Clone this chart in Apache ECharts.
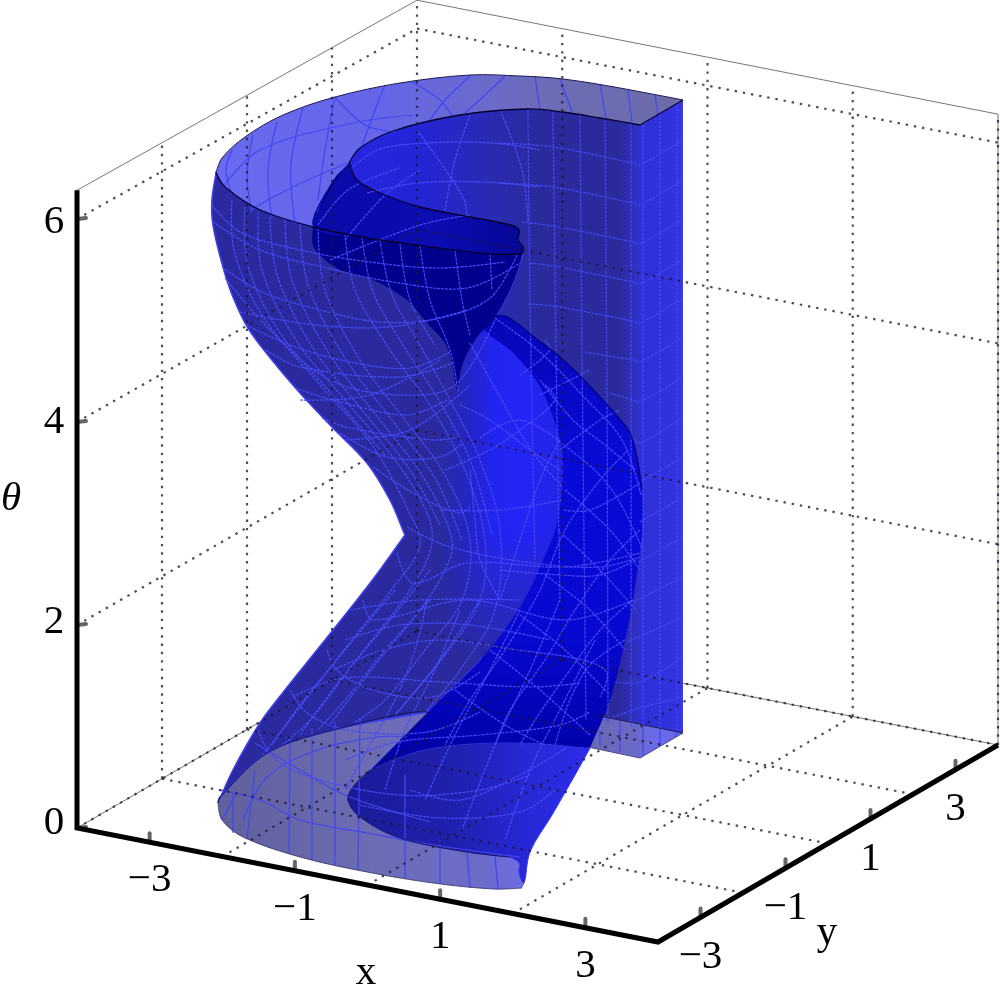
<!DOCTYPE html>
<html>
<head>
<meta charset="utf-8">
<style>
  html, body { margin: 0; padding: 0; background: #fff; }
  #chart { width: 1000px; height: 997px; }
</style>
<script src="https://cdn.jsdelivr.net/npm/echarts@6/dist/echarts.min.js"></script>
</head>
<body>
<div id="chart"></div>
<script>
// axis ticks and grid positions, in data units
const xTicks = [-3, -1, 1, 3]
const yTicks = [-3, -1, 1, 3]
const thetaTicks = [0, 2, 4, 6]
const xGrid = [-2, 0, 2]
const yGrid = [-2, 0, 2]
const thetaGrid = [2, 4, 6]
const axisMin = -4
const axisMax = 4
const thetaMax = 6.283

// outlines of the surface (plot units)
const outerBackArc = [[216,173],[222,158],[245,137],[283,115],[335,97],[400,83],[470,75],[520,76],[563,79],[620,88],[683,100],[683,100]]
const innerBackArc = [[349,163],[360,148],[393,131],[460,115],[527,109],[563,112],[600,118],[640,125],[640,125]]
const outerFrontRim = [[216,173],[225,187],[260,210],[313,227],[367,238],[430,247],[490,254],[522,254]]
const innerFrontRim = [[349,163],[357,180],[380,193],[420,207],[470,217],[510,225],[519,230],[518,240],[523,247],[522,254]]
const darkLeft = [[349,163],[333,180],[317,213],[312,240],[317,252],[340,270],[373,280],[407,300],[427,323],[447,347],[457,392]]
const darkRight = [[457,392],[463,363],[477,337],[493,320],[510,290],[520,263],[522,254]]
const leftEdge = [[216,173],[212,200],[213,225],[223,267],[233,297],[248,328],[272,360],[300,393],[333,428],[367,463],[390,500],[405,535]]
const leftLower = [[405,535],[380,570],[357,600],[317,650],[285,690],[260,723],[233,770],[218,803]]
const ringTop = [[218,803],[220,797],[267,753],[333,730],[427,712]]
const ribbonInner = [[483,328],[513,353],[540,387],[560,440],[563,467],[557,523],[543,560],[520,607],[483,657],[433,707]]
const ribbonLow = [[433,707],[400,740],[370,770]]
const ribbonOuter = [[490,316],[507,317],[535,338],[560,357],[582,378],[600,397],[617,416],[630,433],[637,458],[642,490],[642,533],[633,600],[623,650],[610,700],[590,748]]
const lowArc = [[370,770],[400,757],[433,748],[483,743],[533,743],[590,748]]
const lowRight = [[590,748],[575,775],[552,815],[530,852],[524,883],[519,873],[519,863],[510,857]]
const ringInner = [[370,770],[353,787],[348,800],[360,817],[400,838],[467,852],[510,857]]
const ringNotch = [[510,857],[519,863],[519,873],[524,883],[522,888]]
const ringOuter = [[522,888],[493,889],[433,883],[367,872],[300,857],[243,837],[222,820],[218,803]]
const wallBack = [[640,724],[640,724],[600,716],[600,716],[500,600],[470,300],[345,230],[349,163]]
const wallSide = [[640,125],[683,100],[683,733],[640,724]]
const wallFoot = [[595,715],[683,733],[640,758],[588,747]]
const brightLeft = [[483,657],[450,620],[440,500],[445,400],[457,392],[463,363],[477,337],[483,328]]

// mesh lines of the surface
const meshCap = [
  [[253,135],[247,175],[252,213]], [[277,122],[268,170],[272,218]], [[303,108],[291,165],[295,224]],
  [[335,97],[325,150],[318,200]], [[232,150],[226,170],[232,194]], [[223,187],[260,150],[353,123],[413,115]],
  [[250,210],[293,187],[347,163]], [[335,97],[365,125],[395,132]], [[385,85],[375,110],[362,146]],
  [[412,82],[440,100],[452,116]], [[470,76],[445,100],[430,120]], [[505,76],[485,95],[465,113]],
  [[535,76],[540,110]], [[560,79],[572,112]], [[600,84],[606,118]], [[628,90],[632,123]], [[655,95],[658,115]]
]
const meshWall = [
  [[528,110],[530,300],[535,560]], [[553,112],[556,350],[560,600]], [[580,115],[582,350],[586,720]],
  [[605,119],[607,400],[608,722]], [[631,124],[631,400],[631,726]], [[643,125],[643,400],[643,726]],
  [[660,113],[660,400],[660,730]], [[677,104],[677,400],[677,733]],
  [[500,143],[553,147],[633,163],[640,165],[683,140]], [[500,183],[553,187],[633,203],[640,205],[683,180]],
  [[522,222],[553,226],[633,242],[640,244],[683,219]], [[530,263],[553,266],[633,282],[640,284],[683,259]],
  [[528,304],[553,306],[633,321],[640,323],[683,298]], [[585,352],[633,360],[640,362],[683,337]],
  [[610,393],[633,400],[640,402],[683,377]], [[630,435],[640,443],[683,417]], [[640,482],[683,457]],
  [[640,522],[683,497]], [[638,562],[683,537]], [[633,602],[683,577]], [[627,642],[683,617]],
  [[615,682],[640,682],[683,657]], [[605,720],[640,708],[683,697]]
]
const meshBody = [
  [[212,205],[240,232],[300,250],[370,262],[440,268],[505,262]],
  [[213,222],[260,250],[327,268],[393,282],[467,288],[520,263]],
  [[222,267],[262,292],[320,310],[380,322],[440,318],[490,298],[517,255]],
  [[240,312],[300,323],[367,328],[417,323],[467,310]],
  [[246,325],[290,345],[350,362],[410,368],[450,352]],
  [[266,350],[300,367],[400,377],[453,363]],
  [[295,388],[333,400],[407,415],[447,400]],
  [[322,418],[350,428],[433,440],[457,437]],
  [[340,433],[387,457],[440,457],[463,443]],
  [[373,467],[420,497],[460,513],[470,507]],
  [[300,400],[370,395],[440,360]],
  [[345,440],[410,430],[470,385]],
  [[232,200],[234,250],[262,315],[320,385],[372,445],[408,510],[420,545],[395,585],[340,655],[290,720],[262,756]],
  [[245,207],[247,262],[278,330],[330,392],[385,455]],
  [[258,212],[262,270],[296,340],[345,400],[395,460],[428,515],[431,548],[410,590],[360,655],[310,720],[282,745]],
  [[270,217],[277,275],[313,348],[362,410],[410,470],[440,525]],
  [[285,220],[292,280],[330,355],[380,420],[425,480],[452,540],[445,570],[420,610],[375,665],[330,725]],
  [[300,224],[308,285],[345,358],[392,420],[435,478],[462,540]],
  [[318,228],[325,290],[360,360],[405,420],[445,475],[470,540],[462,600],[425,650],[385,700],[355,722]],
  [[345,234],[355,290],[390,350],[430,405],[465,470],[485,540],[480,600],[445,655],[395,715]],
  [[362,237],[373,292],[405,348],[440,402],[472,465],[492,535]],
  [[380,240],[392,295],[420,345],[450,400],[480,460],[500,530],[495,610],[460,670],[425,712]],
  [[420,246],[430,300],[450,350],[458,392]],
  [[400,243],[410,300],[435,345]],
  [[455,250],[462,300],[470,335]],
  [[490,254],[492,290]],
  [[225,278],[270,330],[330,380],[400,395],[455,385],[495,320]],
  [[345,240],[385,195],[420,170]],
  [[350,170],[377,150],[427,143],[493,143],[540,150]],
  [[367,193],[417,183],[483,182],[540,187]],
  [[417,130],[463,197],[467,217]],
  [[470,115],[455,160],[445,210]],
  [[500,110],[522,170],[528,222]],
  [[318,225],[348,190],[400,168]],
  [[330,260],[420,225],[470,215]],
  [[397,553],[413,583],[467,563],[567,567],[640,553]],
  [[363,600],[373,620],[467,600],[567,620],[633,600]],
  [[407,527],[450,547],[533,563],[600,567],[640,557]],
  [[350,610],[420,600],[520,600]],
  [[345,640],[400,625],[470,625],[550,640]],
  [[470,343],[500,397],[533,453],[563,487]],
  [[460,405],[490,420],[530,450],[560,470]],
  [[445,470],[490,450],[520,430],[555,400],[545,385]],
  [[470,470],[475,520],[480,560],[500,600]],
  [[500,600],[520,540],[540,480],[560,440]],
  [[440,510],[500,510],[563,500]],
  [[333,670],[383,650],[440,640],[517,650],[583,660],[607,673],[600,697]],
  [[293,697],[343,678],[440,682],[533,687],[580,683]],
  [[327,650],[337,670],[373,690],[433,697],[480,672]],
  [[290,690],[307,713],[347,730],[427,732],[480,712]],
  [[258,730],[273,757],[310,777],[400,795],[480,790],[530,775]],
  [[345,760],[397,742],[480,735],[560,725],[590,712]],
  [[410,790],[460,800],[520,775],[566,748]],
  [[360,805],[440,818],[520,812],[555,790]],
  [[300,735],[340,680],[390,620],[430,570]],
  [[395,590],[345,650],[300,705],[272,745]],
  [[430,600],[385,650],[345,700],[318,730]],
  [[395,715],[440,660],[480,600]],
  [[427,600],[415,650],[395,700],[370,745],[345,790]],
  [[460,610],[435,670],[405,730],[385,790]],
  [[520,610],[490,670],[455,735],[425,800]],
  [[560,600],[530,670],[495,745],[462,830]],
  [[595,640],[565,700],[530,770],[505,840]]
]
const meshRibbon = [
  [[495,318],[540,352],[585,398],[622,440],[641,495]],
  [[540,380],[573,420],[605,445],[635,470]],
  [[480,438],[520,420],[573,452],[612,490],[642,548]],
  [[565,490],[610,530],[640,570]],
  [[558,530],[600,570],[636,610]],
  [[545,575],[590,610],[625,650]],
  [[520,615],[565,650],[610,695]],
  [[490,650],[540,690],[590,735]],
  [[455,690],[505,725],[545,745]],
  [[640,483],[590,510],[563,510]],
  [[636,560],[600,575],[560,575],[500,570]],
  [[640,530],[610,560],[575,610],[545,660],[510,710],[495,745]],
  [[628,450],[600,480],[565,530],[540,590],[505,650],[470,700],[445,745]],
  [[633,600],[600,630],[570,670],[535,720],[520,745]],
  [[625,640],[590,665],[570,700],[555,745]],
  [[560,450],[600,420],[620,410]],
  [[540,395],[570,380],[590,370]],
  [[520,375],[550,350],[545,340]]
]
const meshRing = [
  [[220,790],[260,800],[300,820],[367,833],[433,845],[520,857]],
  [[255,743],[300,770],[345,795],[395,812],[430,822]],
  [[243,820],[267,777],[317,750],[377,737],[407,737]],
  [[233,793],[233,833]], [[255,770],[247,839]], [[290,738],[289,852]], [[312,728],[312,860]],
  [[335,722],[335,866]], [[360,718],[358,870]], [[405,775],[405,878]], [[440,840],[440,884]],
  [[467,852],[470,888]], [[495,856],[498,889]], [[235,795],[222,820]], [[600,730],[600,746]],
  [[620,722],[620,752]], [[643,726],[643,756]], [[660,730],[660,746]], [[677,733],[675,737]]
]

const chartDom = document.getElementById('chart')
const chart = echarts.init(chartDom, null, { renderer: 'canvas' })

// projects axis values to plot units, slight foreshortening on theta
const project = (x, y, t) => {
  const u = (x - axisMin) / (axisMax - axisMin)
  const v = (y - axisMin) / (axisMax - axisMin)
  return [
    77 + u * 581 + v * 340,
    828 + u * 114 - v * 197 - t * (101.5 - 1.1 * v)
  ]
}
const rev = list => list.slice().reverse()
const hGrad = stops => new echarts.graphic.LinearGradient(0, 0, 1, 0, stops.map(s => ({ offset: s[0], color: s[1] })))
const vGrad = stops => new echarts.graphic.LinearGradient(0, 0, 0, 1, stops.map(s => ({ offset: s[0], color: s[1] })))

const brightShape = ribbonInner.slice(0, 9).concat(brightLeft.slice(1))
const shapes = [
  { pts: innerBackArc.concat(wallBack), fill: hGrad([[0, '#2626e0'], [0.24, '#2424d8'], [0.52, '#2a2ab0'], [0.66, '#2a2a9c'], [0.93, '#2a2a9c'], [1, '#3232cc']]) },
  { pts: wallSide, fill: hGrad([[0, '#3030d8'], [0.9, '#3232e0'], [1, '#3c3cee']]), smooth: 0 },
  { pts: wallFoot, fill: hGrad([[0, '#6868b0'], [0.5, '#6a6ac8'], [0.75, '#6a6aee'], [1, '#6868e8']]), smooth: 0 },
  { pts: outerBackArc.concat([[640,125]], rev(innerBackArc), darkLeft.slice(1, 4), rev(outerFrontRim).slice(3)), fill: hGrad([[0, '#6a6af0'], [0.35, '#6565e8'], [0.55, '#6a6ad0'], [0.7, '#6c6cb8'], [1, '#6c6ca8']]) },
  { pts: ringTop.concat([[400,740]], ringInner, ringNotch, ringOuter), fill: hGrad([[0, '#60609c'], [0.5, '#6c6cb4'], [0.85, '#6c6cc8'], [1, '#6c6ce4']]) },
  { pts: outerFrontRim.concat([[520,263],[510,290],[493,320]], ribbonInner, [[427,712]], rev(ringTop), rev(leftLower), rev(leftEdge)), fill: '#2a2a9e', stroke: '#3c3cf0', lineWidth: 1.6 },
  { pts: brightShape, fill: hGrad([[0, 'rgba(38,38,200,0)'], [0.25, '#2424c8'], [0.45, '#2424f2'], [0.7, '#2424f4'], [1, '#2424e6']]) },
  { pts: brightShape, fill: vGrad([[0, 'rgba(42,42,158,0)'], [0.62, 'rgba(42,42,158,0)'], [1, 'rgba(42,42,158,0.9)']]) },
  { pts: lowArc.concat(lowRight, rev(ringInner)), fill: hGrad([[0, '#1a1a98'], [0.45, '#2020b0'], [0.75, '#2828d8'], [1, '#2c2cea']]), stroke: '#3636ee', lineWidth: 1 },
  { pts: ribbonOuter.concat(rev(lowArc), rev(ribbonLow), rev(ribbonInner)), fill: vGrad([[0, '#0606b8'], [0.35, '#0a0ad8'], [0.7, '#0808d0'], [1, '#0000a4']]) },
  { pts: darkLeft.concat(darkRight, rev(innerFrontRim)), fill: '#00008c' },
  { pts: innerFrontRim.concat(rev(outerFrontRim).slice(0, 5), darkLeft.slice(1, 3)), fill: hGrad([[0, '#0a0aa8'], [0.6, '#0c0cb0'], [1, '#060696']]) }
]
const meshDash = [3, 1]
const lineLayers = [
  { lines: meshCap, color: '#4444f2', width: 1.2 },
  { lines: meshRing, color: '#4444f2', width: 1.2 },
  { lines: meshWall, color: '#4646f6', width: 1.2, dash: meshDash },
  { lines: meshBody, color: '#4a4afa', width: 1.2, dash: meshDash },
  { lines: meshRibbon, color: '#4a4afa', width: 1.2, dash: meshDash }
]

const edges = [
  { pts: outerBackArc, color: '#1a1a50', width: 1 },
  { pts: innerBackArc, color: '#000030', width: 1.3 },
  { pts: outerFrontRim, color: '#000030', width: 1.3 },
  { pts: innerFrontRim, color: '#000030', width: 1.3 },
  { pts: ribbonOuter.slice(0, 10), color: '#00008a', width: 1.4 },
  { pts: ringTop.concat([[400,740]]), color: '#14144c', width: 1 },
  { pts: ringInner, color: '#14145c', width: 1 },
  { pts: rev(ringOuter), color: '#30306a', width: 0.8 },
  { pts: [[683,100],[640,125]], color: '#000030', width: 1.2, smooth: 0 },
  { pts: [[595,715],[683,733]], color: '#14144c', width: 1, smooth: 0 },
  { pts: [[588,747],[640,758],[683,733]], color: '#4a4a90', width: 1, smooth: 0 }
]

// dotted box grid
const dotted = []
yGrid.forEach(y => dotted.push([project(axisMin, y, 0), project(axisMin, y, thetaMax)]))
xGrid.forEach(x => dotted.push([project(x, axisMax, 0), project(x, axisMax, thetaMax)]))
dotted.push([project(axisMin, axisMax, 0), project(axisMin, axisMax, thetaMax)])
dotted.push([project(axisMax, axisMax, 0), project(axisMax, axisMax, thetaMax)])
xGrid.forEach(x => dotted.push([project(x, axisMin, 0), project(x, axisMax, 0)]))
yGrid.forEach(y => dotted.push([project(axisMin, y, 0), project(axisMax, y, 0)]))
thetaGrid.forEach(t => {
  dotted.push([project(axisMin, axisMin, t), project(axisMin, axisMax, t)])
  dotted.push([project(axisMin, axisMax, t), project(axisMax, axisMax, t)])
})
dotted.push([project(axisMin, axisMin, 0), project(axisMin, axisMax, 0)])
dotted.push([project(axisMin, axisMax, 0), project(axisMax, axisMax, 0)])

// thin box frame
const frame = [
  [project(axisMin, axisMin, thetaMax), project(axisMin, axisMax, thetaMax), project(axisMax, axisMax, thetaMax), project(axisMax, axisMax, 0)],
  [project(axisMin, axisMin, 0), project(axisMin, axisMax, 0), project(axisMax, axisMax, 0)]
]
// thick axes
const axesLines = [
  [project(axisMin, axisMin, thetaMax), project(axisMin, axisMin, 0), project(axisMax, axisMin, 0), project(axisMax, axisMax, 0)]
]
const tickMarks = []
xTicks.forEach(x => {
  const p = project(x, axisMin, 0)
  tickMarks.push([[p[0], p[1]], [p[0], p[1] - 9]])
})
yTicks.forEach(y => {
  const p = project(axisMax, y, 0)
  tickMarks.push([[p[0], p[1]], [p[0], p[1] - 9]])
})
thetaTicks.forEach(t => {
  const p = project(axisMin, axisMin, t)
  tickMarks.push([[p[0], p[1]], [p[0] + 9, p[1] - 1]])
})

const fmt = v => (v < 0 ? '\u2212' + Math.abs(v) : String(v))
const labels = []
xTicks.forEach(x => {
  const p = project(x, axisMin, 0)
  labels.push({ text: fmt(x), pos: [p[0], p[1] + 38] })
})
yTicks.forEach(y => {
  const p = project(axisMax, y, 0)
  labels.push({ text: fmt(y), pos: [p[0], p[1] + 40] })
})
thetaTicks.forEach(t => {
  const p = project(axisMin, axisMin, t)
  labels.push({ text: String(t), pos: [p[0] - 23, p[1] - 5 + t * 1.33] })
})
labels.push({ text: 'x', pos: [366, 973] })
labels.push({ text: 'y', pos: [827, 933] })
labels.push({ text: '\u03b8', pos: [11, 499], italic: true })

const shapeSeries = {
  type: 'custom',
  silent: true,
  data: shapes.map((s, i) => [i]),
  renderItem: (params, api) => {
    const s = shapes[api.value(0)]
    return {
      type: 'polygon',
      shape: { points: s.pts.map(p => api.coord(p)), smooth: s.smooth === 0 ? 0 : 0.34 },
      style: { fill: s.fill, stroke: s.stroke || null, lineWidth: s.lineWidth || 0 }
    }
  }
}
const polySeries = (list, style, smooth) => ({
  type: 'custom',
  silent: true,
  data: list.map((s, i) => [i]),
  renderItem: (params, api) => ({
    type: 'polyline',
    shape: { points: list[api.value(0)].map(p => api.coord(p)), smooth: smooth },
    style: Object.assign({ fill: null }, style)
  })
})
const edgeSeries = {
  type: 'custom',
  silent: true,
  data: edges.map((s, i) => [i]),
  renderItem: (params, api) => {
    const e = edges[api.value(0)]
    return {
      type: 'polyline',
      shape: { points: e.pts.map(p => api.coord(p)), smooth: e.smooth === 0 ? 0 : 0.34 },
      style: { fill: null, stroke: e.color, lineWidth: e.width }
    }
  }
}
const labelSeries = {
  type: 'custom',
  silent: true,
  data: labels.map((s, i) => [i]),
  renderItem: (params, api) => {
    const l = labels[api.value(0)]
    const c = api.coord(l.pos)
    return {
      type: 'text',
      style: {
        x: c[0],
        y: c[1],
        text: l.text,
        fill: '#000',
        align: 'center',
        verticalAlign: 'middle',
        font: (l.italic ? 'italic ' : '') + '41px "Liberation Serif", serif'
      }
    }
  }
}

const option = {
  backgroundColor: '#ffffff',
  animation: false,
  grid: { left: 0, right: 0, top: 0, bottom: 0 },
  xAxis: { type: 'value', min: 0, max: 1000, show: false },
  yAxis: { type: 'value', min: 0, max: 997, inverse: true, show: false },
  series: [
    polySeries(frame, { stroke: '#777777', lineWidth: 1 }, 0),
    shapeSeries
  ].concat(
    lineLayers.map(l => polySeries(l.lines, { stroke: l.color, lineWidth: l.width, lineDash: l.dash || null }, 0.34)),
    [
      edgeSeries,
      polySeries(dotted, { stroke: 'rgba(25,25,50,0.78)', lineWidth: 2.2, lineDash: [2.4, 5.9] }, 0),
      polySeries(tickMarks, { stroke: '#666666', lineWidth: 4, lineCap: 'round' }, 0),
      polySeries(axesLines, { stroke: '#000000', lineWidth: 5, lineJoin: 'miter' }, 0),
      labelSeries
    ]
  )
}
chart.setOption(option)
</script>
</body>
</html>
